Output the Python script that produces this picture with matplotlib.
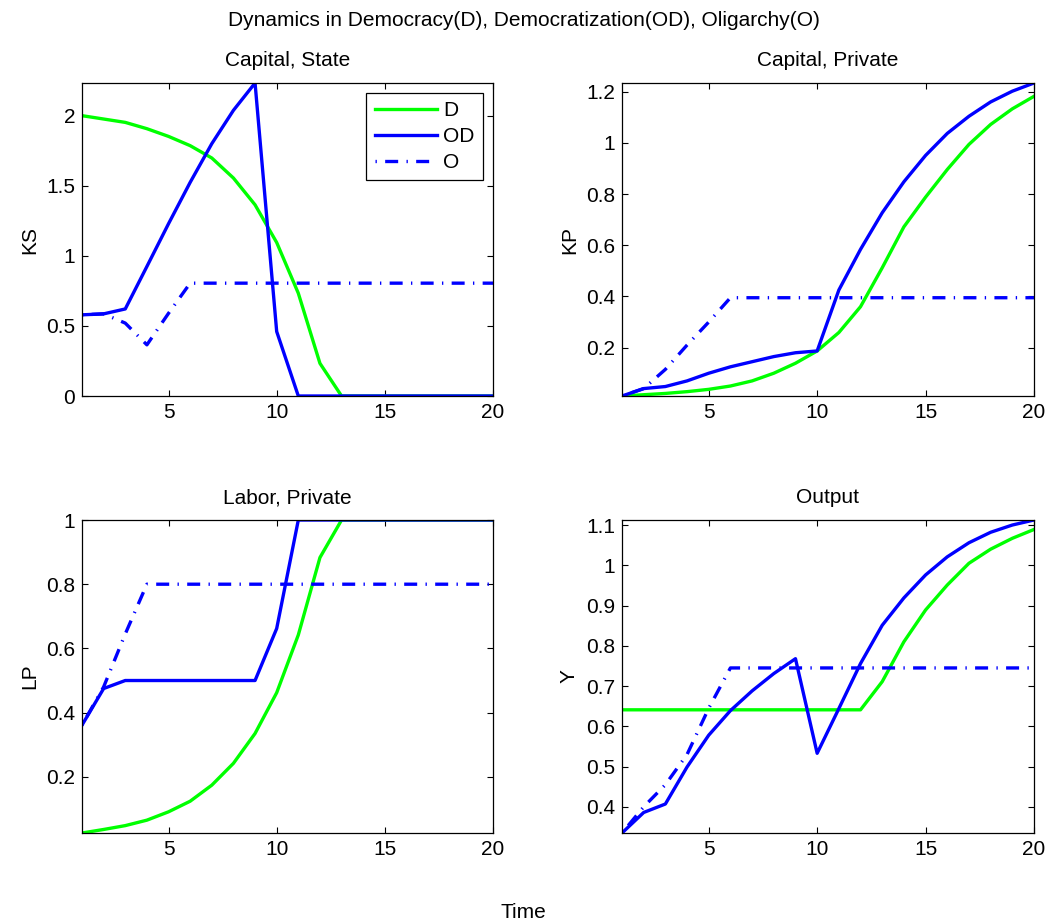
import matplotlib
matplotlib.use("Agg")
import matplotlib.pyplot as plt
from matplotlib.ticker import FuncFormatter

plt.rcParams['font.family'] = ['Liberation Sans', 'DejaVu Sans']

time = list(range(1, 21))

# Capital, State
ks_D = [2.0, 1.976, 1.952, 1.907, 1.852, 1.786, 1.698, 1.555, 1.364, 1.095,
        0.733, 0.233, 0, 0, 0, 0, 0, 0, 0, 0]
ks_OD = [0.579, 0.586, 0.621, 0.924, 1.229, 1.524, 1.80, 2.038, 2.233, 0.46,
         0, 0, 0, 0, 0, 0, 0, 0, 0, 0]
ks_O = [0.579, 0.586, 0.52, 0.365, 0.59, 0.805, 0.805, 0.805, 0.805, 0.805,
        0.805, 0.805, 0.805, 0.805, 0.805, 0.805, 0.805, 0.805, 0.805, 0.805]

# Capital, Private
kp_D = [0.011, 0.016, 0.021, 0.028, 0.037, 0.050, 0.070, 0.100, 0.139, 0.187,
        0.259, 0.360, 0.512, 0.672, 0.788, 0.896, 0.994, 1.072, 1.133, 1.182]
kp_OD = [0.011, 0.040, 0.048, 0.070, 0.100, 0.125, 0.145, 0.165, 0.180, 0.187,
         0.425, 0.584, 0.727, 0.848, 0.951, 1.037, 1.104, 1.160, 1.202, 1.234]
kp_O = [0.011, 0.040, 0.115, 0.21, 0.30, 0.395, 0.395, 0.395, 0.395, 0.395,
        0.395, 0.395, 0.395, 0.395, 0.395, 0.395, 0.395, 0.395, 0.395, 0.395]

# Labor, Private
lp_D = [0.025, 0.036, 0.048, 0.065, 0.091, 0.124, 0.174, 0.242, 0.335, 0.462,
        0.642, 0.883, 1, 1, 1, 1, 1, 1, 1, 1]
lp_OD = [0.361, 0.475, 0.5, 0.5, 0.5, 0.5, 0.5, 0.5, 0.5, 0.662,
         1, 1, 1, 1, 1, 1, 1, 1, 1, 1]
lp_O = [0.361, 0.48, 0.645, 0.8, 0.8, 0.8, 0.8, 0.8, 0.8, 0.8,
        0.8, 0.8, 0.8, 0.8, 0.8, 0.8, 0.8, 0.8, 0.8, 0.8]

# Output
y_D = [0.641, 0.641, 0.641, 0.641, 0.641, 0.641, 0.641, 0.641, 0.641, 0.641,
       0.641, 0.641, 0.711, 0.810, 0.889, 0.951, 1.005, 1.040, 1.067, 1.089]
y_OD = [0.335, 0.386, 0.407, 0.499, 0.578, 0.639, 0.688, 0.731, 0.768, 0.533,
        0.644, 0.756, 0.851, 0.919, 0.976, 1.021, 1.056, 1.082, 1.100, 1.1125]
y_O = [0.335, 0.40, 0.455, 0.53, 0.645, 0.745, 0.745, 0.745, 0.745, 0.745,
       0.745, 0.745, 0.745, 0.745, 0.745, 0.745, 0.745, 0.745, 0.745, 0.745]

titles = ["Capital, State", "Capital, Private", "Labor, Private", "Output"]
ylabels = ["KS", "KP", "LP", "Y"]
yticks = [[0, 0.5, 1, 1.5, 2], [0.2, 0.4, 0.6, 0.8, 1, 1.2],
          [0.2, 0.4, 0.6, 0.8, 1], [0.4, 0.5, 0.6, 0.7, 0.8, 0.9, 1, 1.1]]
series_D = [ks_D, kp_D, lp_D, y_D]
series_OD = [ks_OD, kp_OD, lp_OD, y_OD]
series_O = [ks_O, kp_O, lp_O, y_O]

W, H = 1047, 924
fig = plt.figure(figsize=(W / 100, H / 100), dpi=100)

boxes = [(82, 83, 493, 396), (622, 83, 1034, 396),
         (82, 520, 493, 833), (622, 520, 1034, 833)]

green = (0, 1, 0)
blue = (0, 0, 1)
fs = 15
lw = 2.4

fmt = FuncFormatter(lambda v, p: ("%g" % round(v, 6)))

for i, (x0, y0, x1, y1) in enumerate(boxes):
    d, od, o = series_D[i], series_OD[i], series_O[i]
    ax = fig.add_axes([x0 / W, 1 - y1 / H, (x1 - x0) / W, (y1 - y0) / H])
    ax.plot(time, d, color=green, lw=lw, label="D")
    ax.plot(time, od, color=blue, lw=lw, label="OD")
    ax.plot(time, o, color=blue, lw=lw, ls=(0, (0.4, 2.5, 3.9, 2.5)), label="O")
    allv = d + od + o
    ax.set_xlim(1, 20)
    ax.set_ylim(min(allv), max(allv))
    ax.set_xticks([5, 10, 15, 20])
    ax.set_yticks(yticks[i])
    ax.yaxis.set_major_formatter(fmt)
    ax.tick_params(direction="in", top=True, right=True, labelsize=fs,
                   length=4, width=0.8, pad=5)
    for s in ax.spines.values():
        s.set_linewidth(0.9)
    ax.set_title(titles[i], fontsize=fs, pad=12)
    ax.set_ylabel(ylabels[i], fontsize=fs, labelpad=5)
    if i == 0:
        leg = ax.legend(loc="upper right", fontsize=fs, fancybox=False,
                        edgecolor="black", framealpha=1, handlelength=3.0,
                        borderaxespad=0.48, labelspacing=0.33, handletextpad=0.3,
                        borderpad=0.4)
        leg.get_frame().set_linewidth(0.9)

fig.text(0.5, 1 - 20 / H, "Dynamics in Democracy(D), Democratization(OD), Oligarchy(O)",
         ha="center", va="center", fontsize=fs)
fig.text(523 / W, 1 - 912 / H, "Time", ha="center", va="center", fontsize=fs)

fig.savefig("out.png", dpi=100)
